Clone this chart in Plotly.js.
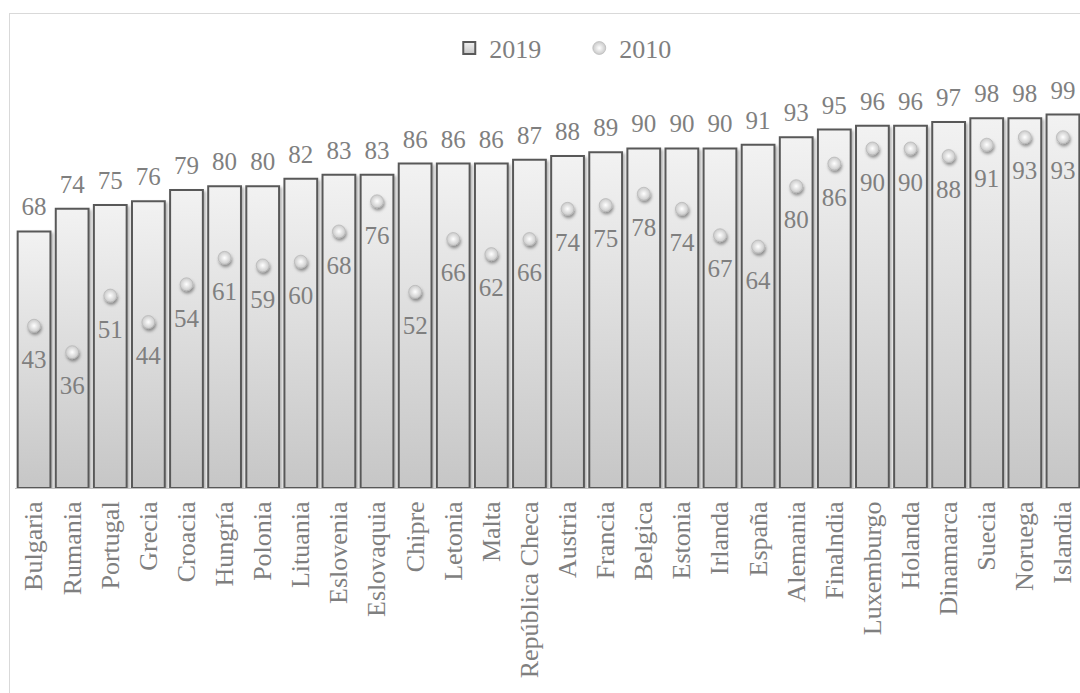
<!DOCTYPE html>
<html><head><meta charset="utf-8">
<script src="https://cdn.plot.ly/plotly-3.0.1.min.js"></script>
<style>
html,body{margin:0;padding:0;overflow:hidden;background:#fff;width:1080px;height:693px;}
#chart{position:absolute;left:0;top:0;width:1095px;height:693px;}
#frame{position:absolute;left:9px;top:13px;width:1200px;height:800px;border:1px solid #d9d9d9;pointer-events:none;}
</style></head><body>
<div id="chart"></div>
<div id="frame"></div>
<script>
const countries = ["Bulgaria","Rumania","Portugal","Grecia","Croacia","Hungría","Polonia","Lituania","Eslovenia","Eslovaquia","Chipre","Letonia","Malta","República Checa","Austria","Francia","Belgica","Estonia","Irlanda","España","Alemania","Finalndia","Luxemburgo","Holanda","Dinamarca","Suecia","Noruega","Islandia"];
const values2019 = [68,74,75,76,79,80,80,82,83,83,86,86,86,87,88,89,90,90,90,91,93,95,96,96,97,98,98,99];
const values2010 = [43,36,51,44,54,61,59,60,68,76,52,66,62,66,74,75,78,74,67,64,80,86,90,90,88,91,93,93];
const seriesNames = ["2019","2010"];

const FONT = "'Liberation Serif', 'Times New Roman', Times, serif";
const GREY = '#7f7f7f';

const traces = [
  {type:'bar', name:seriesNames[0], x:countries, y:values2019,
   marker:{color:'#dcdcdc', line:{color:'#595959', width:2}}},
  {type:'scatter', mode:'markers+text', x:countries, y:values2019, texttemplate:'%{y}',
   textposition:'top center', textfont:{family:FONT, size:25, color:GREY},
   marker:{size:14, color:'rgba(0,0,0,0)'}, showlegend:false, cliponaxis:false},
  {type:'scatter', mode:'markers', name:seriesNames[1], x:countries, y:values2010,
   marker:{size:13, color:'#c9c9c9', gradient:{type:'radial', color:'#ffffff'}, line:{color:'#b0b0b0', width:0.6}}},
  {type:'scatter', mode:'markers+text', x:countries, y:values2010, texttemplate:'%{y}',
   textposition:'bottom center', textfont:{family:FONT, size:25, color:GREY},
   marker:{size:36, color:'rgba(0,0,0,0)'}, showlegend:false, cliponaxis:false}
];

const layout = {
  width:1095, height:693,
  margin:{l:15, r:13, t:73, b:205},
  paper_bgcolor:'rgba(0,0,0,0)', plot_bgcolor:'rgba(0,0,0,0)',
  bargap:0.14,
  hovermode:false,
  showlegend:true,
  legend:{orientation:'h', x:0.407, xanchor:'left', y:1.06, yanchor:'middle',
          font:{family:FONT, size:26, color:GREY}, bgcolor:'rgba(0,0,0,0)',
          entrywidth:85, entrywidthmode:'pixels', traceorder:'normal'},
  xaxis:{type:'category', tickangle:-90, tickfont:{family:FONT, size:26, color:GREY},
         showline:true, linecolor:'#c0c0c0', linewidth:1, ticks:'', showgrid:false,
         range:[-0.5,27.5], ticklabelstandoff:2, fixedrange:true},
  yaxis:{range:[0,110], visible:false, showgrid:false, zeroline:false, fixedrange:true}
};

Plotly.newPlot('chart', traces, layout, {staticPlot:true, displayModeBar:false}).then(function(gd){
  const ns = 'http://www.w3.org/2000/svg';
  const svg = gd.querySelector('svg.main-svg');
  let defs = svg.querySelector('defs');
  if(!defs){ defs = document.createElementNS(ns,'defs'); svg.insertBefore(defs, svg.firstChild); }
  const lg = document.createElementNS(ns,'linearGradient');
  lg.setAttribute('id','barGrad'); lg.setAttribute('x1','0'); lg.setAttribute('y1','0');
  lg.setAttribute('x2','0'); lg.setAttribute('y2','1');
  [['0','#f2f2f2'],['1','#c6c6c6']].forEach(function(s){
    const st = document.createElementNS(ns,'stop');
    st.setAttribute('offset',s[0]); st.setAttribute('stop-color',s[1]); lg.appendChild(st);
  });
  defs.appendChild(lg);
  function mkShadow(id, dx, dy, sd, op){
    const f = document.createElementNS(ns,'filter');
    f.setAttribute('id',id); f.setAttribute('x','-50%'); f.setAttribute('y','-50%');
    f.setAttribute('width','200%'); f.setAttribute('height','200%');
    const d = document.createElementNS(ns,'feDropShadow');
    d.setAttribute('dx',dx); d.setAttribute('dy',dy); d.setAttribute('stdDeviation',sd);
    d.setAttribute('flood-color','#000'); d.setAttribute('flood-opacity',op);
    f.appendChild(d); defs.appendChild(f);
  }
  mkShadow('barShadow', 2, 2, 1.5, 0.3);
  mkShadow('dotShadow', 1, 2.5, 1.5, 0.4);
  gd.querySelectorAll('.barlayer .point path').forEach(function(p){
    p.style.fill = 'url(#barGrad)'; p.setAttribute('filter','url(#barShadow)');
  });
  const sc = gd.querySelectorAll('.scatterlayer .trace');
  if(sc[1]) sc[1].querySelectorAll('path.point').forEach(function(p){ p.setAttribute('filter','url(#dotShadow)'); });
  const lt = gd.querySelectorAll('.legend .traces');
  if(lt[0]) lt[0].querySelectorAll('.legendpoints path').forEach(function(p){ p.style.fill='url(#barGrad)'; });
});
</script>
</body></html>
